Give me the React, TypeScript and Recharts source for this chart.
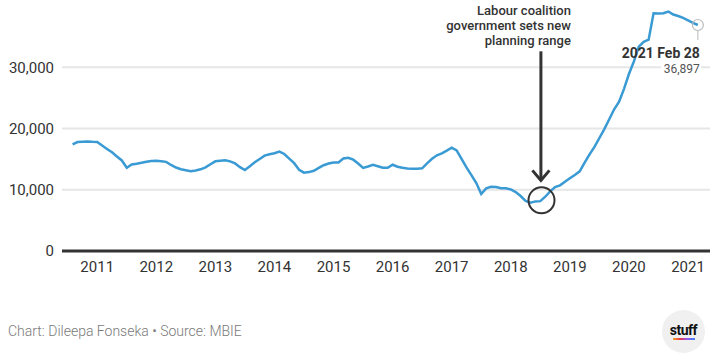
import { CartesianGrid, Line, LineChart, ReferenceDot, ReferenceLine, XAxis, YAxis } from "recharts";

// monthly values (month-end)
const values2010 = [17400, 17790, 17840, 17890, 17830, 17790]; // Jul-Dec
const values2011 = [17230, 16660, 16110, 15440, 14780, 13600, 14140, 14260, 14400, 14560, 14690, 14740];
const values2012 = [14640, 14550, 14050, 13630, 13350, 13190, 13030, 13150, 13340, 13660, 14160, 14640];
const values2013 = [14740, 14830, 14640, 14300, 13690, 13230, 13830, 14490, 15030, 15570, 15800, 15960];
const values2014 = [16230, 15840, 15090, 14340, 13250, 12790, 12880, 13100, 13560, 14000, 14290, 14460];
const values2015 = [14440, 15100, 15230, 14910, 14290, 13570, 13800, 14070, 13830, 13600, 13580, 14080];
const values2016 = [13750, 13580, 13460, 13440, 13440, 13500, 14320, 15060, 15630, 15950, 16400, 16860];
const values2017 = [16430, 15040, 13640, 12400, 11090, 9300, 10230, 10490, 10460, 10260, 10250, 10040];
const values2018 = [9610, 8980, 8180, 7880, 8100, 8140, 8860, 9730, 10440, 10720, 11310, 11870];
const values2019 = [12420, 13010, 14440, 15770, 16990, 18450, 19900, 21510, 23140, 24360, 26470, 28900];
const values2020 = [30940, 33350, 34160, 34500, 38820, 38760, 38820, 39100, 38600, 38370, 38050, 37670];
const values2021 = [37260, 36897]; // Jan-Feb

const series: [number, number, number[]][] = [
  [2010, 7, values2010],
  [2011, 1, values2011],
  [2012, 1, values2012],
  [2013, 1, values2013],
  [2014, 1, values2014],
  [2015, 1, values2015],
  [2016, 1, values2016],
  [2017, 1, values2017],
  [2018, 1, values2018],
  [2019, 1, values2019],
  [2020, 1, values2020],
  [2021, 1, values2021],
];

const yearTicks = [2011, 2012, 2013, 2014, 2015, 2016, 2017, 2018, 2019, 2020, 2021];
const valueTicks = [0, 10000, 20000, 30000];
const annotationLines = ["Labour coalition", "government sets new", "planning range"];

const data = series.flatMap(([year, firstMonth, values]) =>
  values.map((value, i) => ({ t: year + (firstMonth + i) / 12, value })),
);
const last = data[data.length - 1];

const FONT = "Roboto, sans-serif";
const DARK = "#333333";
const BLUE = "#3a9ad3";

const ARROW_X = 2018.51;
const ARROW_TOP = 32600;
const ARROW_TIP = 11530;

function AnnotationText({ cx, cy }: { cx?: number; cy?: number }) {
  if (cx === undefined || cy === undefined) return null;
  return (
    <text textAnchor="end" fontFamily={FONT} fontSize={13} fontWeight={500} fill={DARK}>
      {annotationLines.map((line, i) => (
        <tspan key={line} x={cx + 30} y={cy - 36.5 + i * 15}>
          {line}
        </tspan>
      ))}
    </text>
  );
}

function ArrowHead({ cx, cy }: { cx?: number; cy?: number }) {
  if (cx === undefined || cy === undefined) return null;
  return (
    <path
      d={`M${cx - 8.5},${cy - 10} L${cx},${cy} L${cx + 8.5},${cy - 10}`}
      fill="none"
      stroke={DARK}
      strokeWidth={3}
    />
  );
}

function EndLabel({ cx, cy }: { cx?: number; cy?: number }) {
  if (cx === undefined || cy === undefined) return null;
  return (
    <g fontFamily={FONT}>
      <line x1={cx} y1={cy + 6} x2={cx} y2={cy + 15} stroke="#bbbbbb" strokeWidth={1} />
      <circle cx={cx} cy={cy} r={5.5} fill="none" stroke="#bbbbbb" strokeWidth={1.2} />
      <text x={cx + 2} y={cy + 32.5} textAnchor="end" fontSize={14} fontWeight={700} fill={DARK}>
        2021 Feb 28
      </text>
      <rect x={cx - 37} y={cy + 37} width={40} height={14} fill="#ffffff" />
      <text x={cx + 2} y={cy + 48} textAnchor="end" fontSize={12} fill="#555555">
        {last.value.toLocaleString("en-US")}
      </text>
    </g>
  );
}

export default function App() {
  return (
    <div
      style={{
        position: "fixed",
        top: 0,
        left: 0,
        width: 728,
        height: 359,
        background: "#ffffff",
        fontFamily: FONT,
      }}
    >
      <LineChart width={728} height={290} data={data} margin={{ top: 6, right: 18, bottom: 0, left: 0 }}>
        <CartesianGrid vertical={false} horizontalValues={valueTicks} stroke="#e6e6e6" strokeWidth={2} />
        <XAxis
          dataKey="t"
          type="number"
          domain={[2010.404, 2021.372]}
          ticks={yearTicks}
          tickFormatter={(t) => String(Math.round(Number(t)))}
          axisLine={{ stroke: DARK, strokeWidth: 3 }}
          tickLine={false}
          tickSize={0}
          tickMargin={10}
          height={39}
          tick={{ fill: DARK, fontSize: 15, fontFamily: FONT }}
        />
        <YAxis
          type="number"
          domain={[0, 40000]}
          ticks={valueTicks}
          tickFormatter={(v) => Number(v).toLocaleString("en-US")}
          axisLine={false}
          tickLine={false}
          tickSize={0}
          tickMargin={8}
          width={62}
          tick={{ fill: DARK, fontSize: 15, fontFamily: FONT }}
        />
        <Line
          type="linear"
          dataKey="value"
          stroke={BLUE}
          strokeWidth={2.5}
          dot={false}
          activeDot={false}
          isAnimationActive={false}
        />
        <ReferenceLine
          segment={[
            { x: ARROW_X, y: ARROW_TOP },
            { x: ARROW_X, y: ARROW_TIP },
          ]}
          stroke={DARK}
          strokeWidth={3}
        />
        <ReferenceDot x={ARROW_X} y={ARROW_TIP} shape={(p: any) => <ArrowHead cx={p.cx} cy={p.cy} />} />
        <ReferenceDot x={ARROW_X} y={ARROW_TOP} shape={(p: any) => <AnnotationText cx={p.cx} cy={p.cy} />} />
        <ReferenceDot x={2018.52} y={8270} r={13} fill="none" stroke={DARK} strokeWidth={2} />
        <ReferenceDot x={last.t} y={last.value} shape={(p: any) => <EndLabel cx={p.cx} cy={p.cy} />} />
      </LineChart>
      <div
        style={{
          position: "absolute",
          left: 8,
          top: 323,
          fontSize: 14,
          fontWeight: 300,
          color: "#7a7a7a",
          fontFamily: FONT,
        }}
      >
        Chart: Dileepa Fonseka • Source: MBIE
      </div>
      <div
        style={{
          position: "absolute",
          left: 662,
          top: 310,
          width: 43,
          height: 43,
          borderRadius: "50%",
          background: "#f0f0f0",
          display: "flex",
          flexDirection: "column",
          alignItems: "center",
          justifyContent: "center",
        }}
      >
        <div style={{ fontSize: 14, fontWeight: 700, color: "#111", lineHeight: "14px", letterSpacing: -0.5 }}>
          stuff
        </div>
        <div
          style={{
            width: 22,
            height: 2,
            marginTop: 1,
            background: "linear-gradient(90deg, #f5a623, #e8374b, #8b5cf6, #3b82f6)",
          }}
        />
      </div>
    </div>
  );
}
